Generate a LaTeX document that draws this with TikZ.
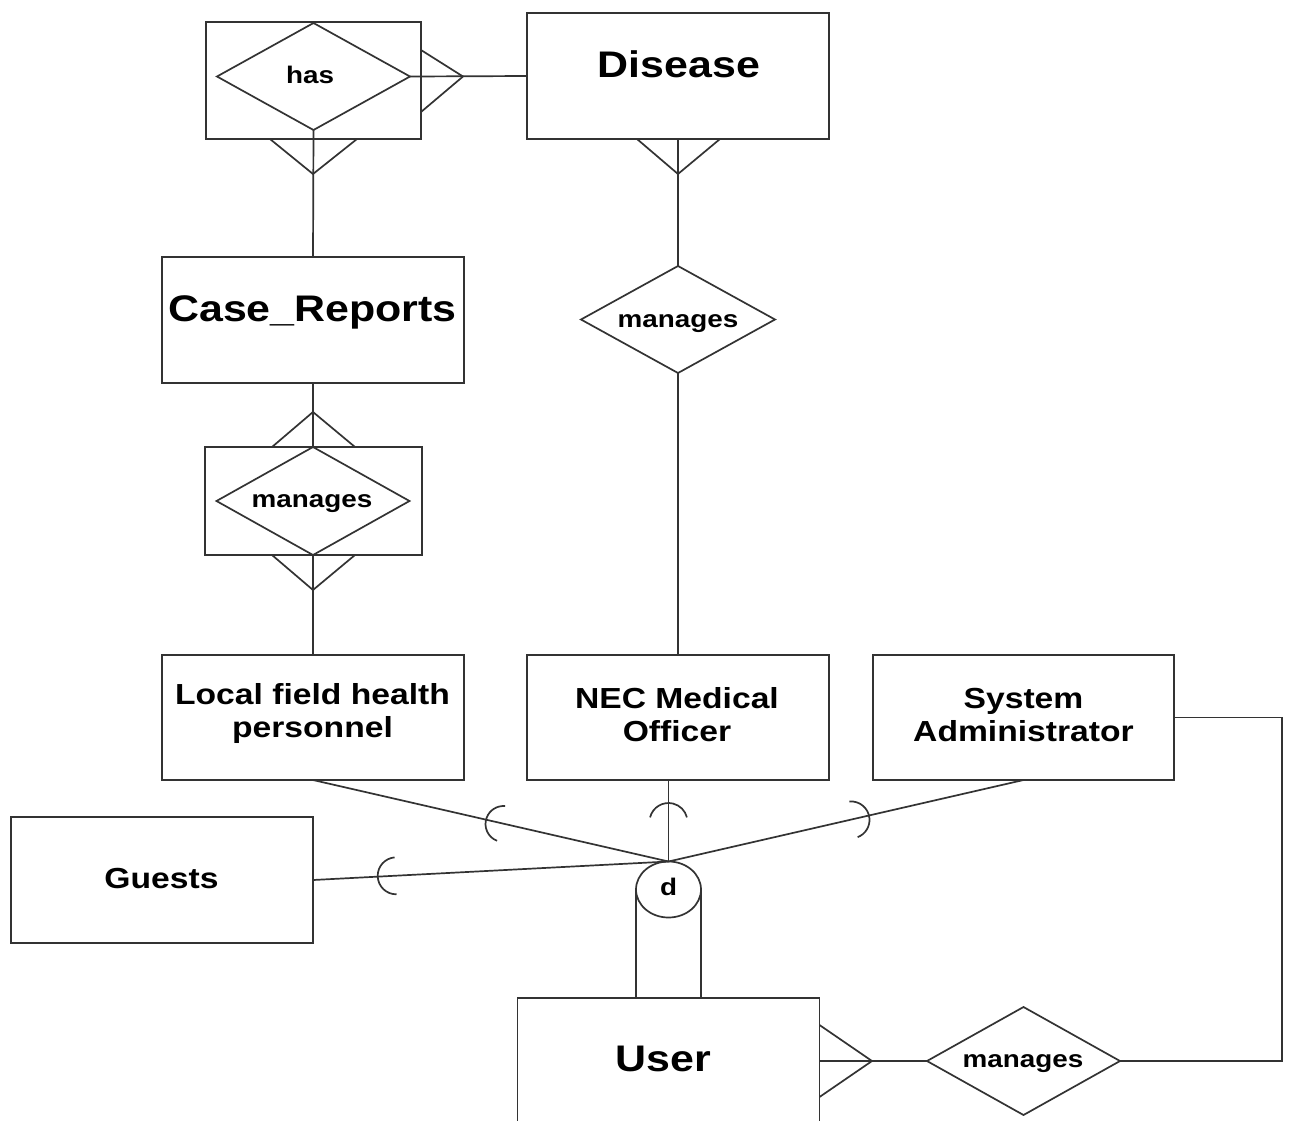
\documentclass[tikz,border=0pt]{standalone}
\usepackage{fontspec}
\setmainfont{Liberation Sans}[FakeStretch=1.16]
\usetikzlibrary{shapes.geometric}
\tikzset{
  ent/.style={draw=black!80, rectangle, inner sep=0pt, outer sep=0pt, line width=1.7pt},
  rel/.style={draw=black!80, diamond, inner sep=0pt, outer sep=0pt, line width=1.7pt},
  conn/.style={draw=black!80, line width=1.7pt},
  bigtxt/.style={font=\fontsize{37}{41}\selectfont\bfseries, inner sep=0pt},
  midtxt/.style={font=\fontsize{29}{33}\selectfont\bfseries, align=center, inner sep=0pt},
  reltxt/.style={font=\fontsize{24}{27}\selectfont\bfseries, inner sep=0pt},
}
\begin{document}
\begin{tikzpicture}[x=1pt,y=-1pt]
\useasboundingbox (0,0) rectangle (1290,1120);
\clip (0,0) rectangle (1290,1120);
\fill[white] (0,0) rectangle (1290,1120);

% entities and relationships
\node[ent, minimum width=215pt, minimum height=117pt] (hasbox) at (313.5,80.5) {};
\node[rel, minimum width=193pt, minimum height=107pt] (has) at (313.5,76.5) {};
\node[ent, minimum width=302pt, minimum height=126pt] (disease) at (678,76) {};
\node[rel, minimum width=194pt, minimum height=107pt] (manD) at (678,319.5) {};
\node[ent, minimum width=302pt, minimum height=126pt] (case) at (313,320) {};
\node[ent, minimum width=217pt, minimum height=108pt] (manCbox) at (313.5,501) {};
\node[rel, minimum width=193pt, minimum height=108pt] (manC) at (313,501) {};
\node[ent, minimum width=302pt, minimum height=125pt] (local) at (313,717.5) {};
\node[ent, minimum width=302pt, minimum height=125pt] (nec) at (678,717.5) {};
\node[ent, minimum width=301pt, minimum height=125pt] (sys) at (1023.5,717.5) {};
\node[ent, minimum width=302pt, minimum height=126pt] (guests) at (162,880) {};
\node[draw=black!80, ellipse, minimum width=65pt, minimum height=56pt, inner sep=0pt, outer sep=0pt, line width=1.7pt] (d) at (668.5,889.5) {};
\node[ent, minimum width=302pt, minimum height=130pt] (user) at (668.5,1063) {};
\node[rel, minimum width=193pt, minimum height=108pt] (manU) at (1023.5,1061) {};

% texts
\node[reltxt, anchor=base] (thas) at (310,83.5) {has};
\node[bigtxt, anchor=base] (tdisease) at (679,77.5) {Disease};
\node[reltxt, anchor=base] (tmanD) at (678,327) {manages};
\node[bigtxt, anchor=base] (tcase) at (312.5,321) {Case\_Reports};
\node[reltxt, anchor=base] (tmanC) at (312,507) {manages};
\node[midtxt] (tlocal) at (312.5,713.2) {Local field health\\personnel};
\node[midtxt] (tnec) at (677,715.1) {NEC Medical\\Officer};
\node[midtxt] (tsys) at (1023.5,715) {System\\Administrator};
\node[midtxt, anchor=base] (tguests) at (161.5,888.3) {Guests};
\node[reltxt, anchor=base] (td) at (668.5,895) {d};
\node[bigtxt, anchor=base] (tuser) at (663,1071.5) {User};
\node[reltxt, anchor=base] (tmanU) at (1023,1067) {manages};

% has -- Disease
\draw[conn] (has.east) -- (disease.west);
\draw[conn] (421,50) -- (463,76.5) -- (421,112);
% has -- Case_Reports
\draw[conn] (has.south) -- (case.north);
\draw[conn] (270,139) -- (313,174) -- (357,139);
% Disease -- manages -- NEC Medical Officer
\draw[conn] (disease.south) -- (manD.north);
\draw[conn] (637,139) -- (678,174) -- (720,139);
\draw[conn] (manD.south) -- (nec.north);
% Case_Reports -- manages -- Local field health personnel
\draw[conn] (case.south) -- (manC.north);
\draw[conn] (272,447) -- (313,412) -- (355,447);
\draw[conn] (manC.south) -- (local.north);
\draw[conn] (272,555) -- (313,590) -- (355,555);

% specialisation
\draw[conn] (local.south) -- (d.north);
\draw[conn] (nec.south -| d.north) -- (d.north);
\draw[conn] (sys.south) -- (d.north);
\draw[conn] (guests.east) -- (d.north);
\draw[conn] (d.west) -- (d.west |- user.north);
\draw[conn] (d.east) -- (d.east |- user.north);

% subset arcs
\draw[conn] (503.5,824) ++(111:18) arc[start angle=111,end angle=275,radius=18];
\draw[conn] (668.5,822) ++(194:19) arc[start angle=194,end angle=346,radius=19];
\draw[conn] (851,819.9) ++(265:18.5) arc[start angle=265,end angle=429,radius=18.5];
\draw[conn] (396.2,875.8) ++(89:18.5) arc[start angle=89,end angle=265,radius=18.5];

% User -- manages -- System Administrator
\draw[conn] (manU.west) -- (manU.west -| user.east);
\draw[conn] (819.5,1025) -- (872,1061) -- (819.5,1097);
\draw[conn] (manU.east) -- ++(162,0) |- (sys.east);
\end{tikzpicture}
\end{document}
